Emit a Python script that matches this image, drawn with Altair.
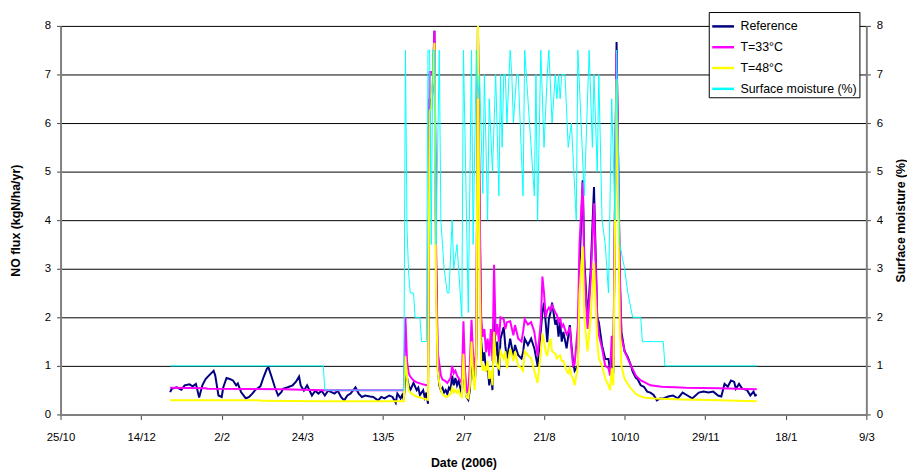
import altair as alt
import pandas as pd

FONT = "Liberation Sans"

series_names = ["Reference", "T=33°C", "T=48°C", "Surface moisture (%)"]
series_colors = ["#000080", "#FF00FF", "#FFFF00", "#00FFFF"]
series_widths = [2, 2, 2, 1]

x_tick_dates = ["2005-10-25", "2005-12-14", "2006-02-02", "2006-03-24", "2006-05-13",
                "2006-07-02", "2006-08-21", "2006-10-10", "2006-11-29", "2007-01-18", "2007-03-09"]
y_ticks = [0, 1, 2, 3, 4, 5, 6, 7, 8]

# (day of 2006 counted from 1 January = 0, value)
ref_points = [
    (0, 0.46), (1, 0.53), (4, 0.56), (7, 0.51), (9, 0.6), (12, 0.62), (14, 0.58), (16, 0.63),
    (18, 0.35), (20, 0.6), (22, 0.73), (24, 0.8), (27, 0.9), (28, 0.8), (30, 0.39), (32, 0.36),
    (33, 0.56), (35, 0.75), (37, 0.73), (39, 0.7), (41, 0.6), (42, 0.64), (44, 0.46), (47, 0.33),
    (49, 0.36), (51, 0.43), (53, 0.51), (56, 0.58), (58, 0.77), (60, 0.94), (61, 0.97), (63, 0.77),
    (65, 0.56), (67, 0.39), (69, 0.46), (70, 0.53), (73, 0.56), (76, 0.6), (78, 0.67), (80, 0.78),
    (81, 0.6), (83, 0.49), (85, 0.6), (88, 0.39), (90, 0.49), (92, 0.43), (94, 0.49), (96, 0.39),
    (98, 0.49), (100, 0.46), (102, 0.43), (104, 0.49), (106, 0.36), (108, 0.29), (110, 0.39),
    (112, 0.43), (115, 0.56), (117, 0.43), (119, 0.36), (121, 0.39), (124, 0.37), (126, 0.36),
    (129, 0.29), (131, 0.36), (133, 0.33), (136, 0.39), (138, 0.36), (140, 0.24), (141, 0.43),
    (143, 0.33), (144, 0.4), (145, 0.3),
    (146, 0.8), (147, 0.75), (148, 0.6), (149, 0.5), (151, 0.65), (153, 0.5), (154, 0.55),
    (155, 0.4), (157, 0.5), (158, 0.35), (159, 0.45), (160, 0.22), (161, 6.5), (162, 6.3),
    (163, 6.8), (164, 7.9), (165, 3.2), (166, 1.0), (167, 0.6), (168, 0.5), (169, 0.55),
    (170, 0.45), (171, 0.5), (172, 0.42), (173, 0.55), (174, 0.5), (175, 0.8), (176, 0.6),
    (177, 0.75), (178, 0.6), (179, 0.7), (180, 0.55), (181, 0.4), (182, 1.0), (183, 0.6),
    (184, 0.35), (185, 0.3), (186, 0.5), (187, 1.3), (188, 0.8), (189, 0.6), (190, 1.2),
    (191, 7.95), (192, 4.2), (193, 1.5), (194, 1.1), (195, 1.28), (196, 0.88), (197, 1.0),
    (198, 0.6), (199, 0.88), (200, 0.5), (201, 1.96), (202, 1.2), (203, 1.5), (204, 0.8),
    (205, 1.56), (207, 1.8), (208, 1.4), (209, 1.15), (211, 1.56), (213, 1.2), (214, 1.43),
    (216, 1.22), (218, 1.15), (219, 1.28), (220, 1.56), (222, 1.43), (224, 1.56), (226, 1.36),
    (228, 1.0), (230, 1.72), (231, 2.1), (232, 2.3), (233, 1.9), (234, 1.49), (235, 1.96),
    (236, 2.1), (237, 2.3), (239, 1.85), (240, 1.95), (241, 1.6), (242, 1.9), (243, 1.5),
    (244, 1.7), (246, 1.36), (247, 1.6), (248, 1.84), (249, 1.43), (250, 1.1), (251, 0.9),
    (253, 1.0), (254, 3.0), (256, 4.82), (257, 3.2), (259, 1.96), (261, 3.0), (263, 4.68),
    (265, 2.0), (266, 1.9), (268, 1.42), (270, 1.14), (272, 1.14), (273, 0.9), (274, 1.28),
    (275, 0.85), (277, 7.67), (279, 2.8), (280, 1.7), (282, 1.3), (284, 1.18), (286, 1.0),
    (287, 0.88), (289, 0.75), (290, 0.73), (292, 0.6), (294, 0.57), (296, 0.47), (298, 0.45),
    (300, 0.4), (302, 0.29), (304, 0.33), (306, 0.33), (309, 0.37), (312, 0.39), (315, 0.33),
    (318, 0.45), (321, 0.39), (324, 0.33), (328, 0.45), (331, 0.47), (334, 0.45), (337, 0.47),
    (340, 0.39), (342, 0.37), (344, 0.63), (346, 0.57), (348, 0.7), (350, 0.67), (351, 0.53),
    (353, 0.63), (355, 0.53), (358, 0.5), (360, 0.39), (362, 0.47), (363, 0.39), (364, 0.41),
]

t33_points = [
    (0, 0.55), (22, 0.54), (23, 0.53), (70, 0.52), (95, 0.5), (145, 0.5),
    (146, 2.0), (147, 1.1), (148, 0.85), (149, 0.78), (151, 0.7), (153, 0.66), (155, 0.64),
    (157, 0.62), (159, 0.6), (160, 0.6), (161, 7.05), (162, 7.05), (163, 7.0), (164, 7.9),
    (165, 3.5), (166, 1.3), (167, 1.05), (168, 0.8), (169, 0.72), (170, 0.7), (171, 0.68),
    (172, 0.65), (173, 0.7), (174, 0.75), (175, 1.0), (176, 0.85), (177, 0.9), (178, 0.8),
    (179, 0.75), (180, 0.7), (181, 0.65), (182, 1.92), (183, 0.9), (184, 0.5), (185, 0.45),
    (186, 1.05), (187, 1.95), (188, 1.2), (189, 0.9), (190, 1.5), (191, 8.0), (192, 4.5),
    (193, 2.0), (194, 1.6), (195, 1.76), (196, 1.28), (197, 1.56), (198, 1.2), (199, 1.76),
    (200, 1.1), (201, 3.08), (202, 1.63), (203, 1.86), (204, 1.5), (205, 2.0), (207, 1.96),
    (208, 1.76), (209, 1.9), (211, 1.92), (213, 1.63), (214, 1.84), (216, 1.56), (218, 1.5),
    (219, 1.7), (220, 1.96), (222, 1.85), (224, 1.9), (226, 1.7), (228, 1.2), (230, 1.9),
    (231, 2.84), (232, 2.5), (233, 2.0), (234, 2.14), (235, 2.2), (236, 2.15), (237, 2.25),
    (239, 2.1), (240, 2.05), (241, 1.9), (242, 2.0), (243, 1.8), (244, 1.85), (246, 1.65),
    (247, 1.7), (248, 1.8), (249, 1.36), (250, 1.0), (251, 1.04), (253, 1.84), (254, 3.5),
    (256, 4.78), (257, 3.0), (259, 1.76), (261, 2.8), (263, 4.35), (265, 2.0), (266, 1.64),
    (268, 1.36), (270, 1.0), (272, 0.95), (273, 0.8), (274, 1.62), (275, 1.0), (277, 7.45),
    (279, 3.0), (280, 1.6), (282, 1.3), (286, 1.0), (289, 0.8), (292, 0.7), (294, 0.67),
    (298, 0.6), (305, 0.57), (320, 0.55), (340, 0.54), (364, 0.52),
]

t48_points = [
    (0, 0.29), (55, 0.29), (56, 0.28), (95, 0.27), (145, 0.27),
    (146, 1.2), (147, 0.75), (148, 0.5), (149, 0.45), (151, 0.4), (153, 0.37), (155, 0.35),
    (157, 0.33), (159, 0.31), (160, 0.3), (161, 6.25), (162, 6.3), (163, 6.9), (164, 7.65),
    (165, 2.5), (166, 0.9), (167, 0.65), (168, 0.5), (169, 0.42), (170, 0.38), (171, 0.37),
    (172, 0.36), (173, 0.4), (174, 0.42), (175, 0.55), (176, 0.45), (177, 0.5), (178, 0.45),
    (179, 0.5), (180, 0.4), (181, 0.36), (182, 1.25), (183, 0.5), (184, 0.35), (185, 0.33),
    (186, 0.6), (187, 1.5), (188, 0.8), (189, 0.5), (190, 1.2), (191, 8.0), (192, 3.0),
    (193, 1.1), (194, 0.9), (195, 1.0), (196, 0.88), (197, 1.1), (198, 0.73), (199, 0.9),
    (200, 0.6), (201, 1.7), (202, 1.1), (203, 1.0), (204, 0.95), (205, 1.3), (207, 1.15),
    (208, 1.3), (209, 0.95), (211, 1.35), (213, 1.1), (214, 1.3), (216, 1.0), (218, 0.95),
    (219, 0.9), (220, 1.3), (222, 1.22), (224, 1.15), (226, 0.9), (228, 0.65), (230, 1.28),
    (231, 1.67), (232, 1.5), (233, 1.3), (234, 1.2), (235, 1.43), (236, 1.56), (237, 1.3),
    (239, 1.25), (240, 1.15), (241, 1.2), (242, 1.22), (243, 1.1), (244, 1.1), (246, 0.9),
    (247, 0.85), (248, 0.95), (249, 0.8), (250, 0.73), (251, 0.6), (253, 1.0), (254, 2.5),
    (256, 3.46), (257, 2.0), (259, 1.3), (261, 2.0), (263, 3.12), (265, 1.5), (266, 1.15),
    (268, 1.0), (270, 0.73), (272, 0.6), (273, 0.5), (274, 0.95), (275, 0.6), (277, 6.9),
    (279, 1.8), (280, 1.0), (282, 0.73), (286, 0.53), (289, 0.42), (292, 0.37), (294, 0.35),
    (300, 0.33), (318, 0.31), (340, 0.29), (364, 0.27),
]

moisture_points = [
    (0, 1.0), (95, 1.0), (96, 0.5), (145, 0.5), (146, 7.5), (147, 3.8), (148, 2.9), (149, 2.5),
    (151, 2.5), (152, 2.0), (155, 2.0), (156, 1.5), (159, 1.5), (160, 7.5), (161, 7.5),
    (162, 3.5), (163, 7.5), (164, 7.5), (165, 3.5), (167, 7.5), (168, 4.0), (170, 3.0),
    (172, 2.5), (173, 2.5), (175, 4.0), (176, 3.0), (178, 3.5), (180, 2.5), (181, 2.0),
    (182, 7.5), (185, 2.1), (187, 7.5), (188, 3.5), (190, 7.5), (191, 6.5), (192, 7.0),
    (194, 4.55), (195, 7.0), (197, 4.0), (198, 6.5), (200, 5.0), (202, 7.0), (204, 4.5),
    (205, 7.0), (206, 5.5), (207, 7.0), (208, 7.0), (209, 6.0), (211, 7.5), (212, 7.0),
    (213, 6.0), (215, 7.0), (216, 7.0), (219, 4.5), (220, 7.5), (223, 6.0), (226, 4.5),
    (227, 7.0), (228, 4.0), (230, 7.5), (232, 5.5), (234, 7.0), (235, 7.5), (237, 6.0),
    (239, 7.0), (240, 6.5), (241, 7.0), (242, 6.5), (243, 7.0), (245, 7.0), (247, 5.5),
    (249, 6.0), (252, 4.0), (253, 7.5), (257, 4.5), (260, 7.5), (262, 5.5), (263, 7.0),
    (265, 5.0), (266, 7.0), (268, 4.0), (270, 3.5), (272, 2.5), (274, 6.5), (276, 4.0),
    (277, 7.5), (279, 3.5), (282, 3.0), (284, 2.5), (287, 2.0), (292, 2.0), (293, 1.5),
    (306, 1.5), (307, 1.0), (364, 1.0),
]

start = pd.Timestamp("2006-01-01")


def ms(ts):
    return int(pd.Timestamp(ts).value // 10**6)


rows = []
for name, pts in zip(series_names, [ref_points, t33_points, t48_points, moisture_points]):
    for d, v in pts:
        rows.append({"series": name, "t": ms(start + pd.Timedelta(days=d)), "v": v})
df = pd.DataFrame(rows)

x_enc = alt.X(
    "t:T",
    title="Date (2006)",
    scale=alt.Scale(type="utc", domain=[ms(x_tick_dates[0]), ms(x_tick_dates[-1])]),
    axis=alt.Axis(
        values=[ms(d) for d in x_tick_dates],
        labelExpr="utcFormat(datum.value, '%-d/%-m')",
        grid=False, domainColor="#808080", domainWidth=2,
        tickColor="#404040", tickSize=5, tickWidth=1,
        labelFont=FONT, labelFontSize=11.5, labelColor="black", labelPadding=12,
        labelFlush=False, labelOverlap=False,
        titleFont=FONT, titleFontSize=12.5, titleFontWeight="bold", titleColor="black",
        titleY=49, titleBaseline="middle",
    ),
)

color_enc = alt.Color(
    "series:N",
    scale=alt.Scale(domain=series_names, range=series_colors),
    legend=alt.Legend(
        title=None, orient="none", legendX=654, legendY=-14,
        symbolType="stroke", symbolSize=484, symbolStrokeWidth=2.5,
        labelFont=FONT, labelFontSize=12.5, labelColor="black", labelOffset=5,
        fillColor="white", strokeColor="black", padding=2, rowPadding=2,
    ),
)


def y_enc(axis):
    return alt.Y("v:Q", scale=alt.Scale(domain=[0, 8], nice=False, zero=True), axis=axis)


left_axis = alt.Axis(
    values=y_ticks, grid=True, gridColor="black", gridWidth=1,
    domainColor="#808080", domainWidth=2, tickColor="#404040", tickSize=4,
    labelFont=FONT, labelFontSize=11.5, labelColor="black", labelPadding=6,
    title="NO flux (kgN/ha/yr)", titleFont=FONT, titleFontSize=12.5, titleFontWeight="bold",
    titleColor="black", titleX=-45, titleY=196, titleAngle=270, titleAlign="center",
    titleBaseline="middle",
)
right_axis = alt.Axis(
    orient="right", values=y_ticks, grid=False,
    domainColor="#808080", domainWidth=2, tickColor="#404040", tickSize=4,
    labelFont=FONT, labelFontSize=11.5, labelColor="black", labelPadding=6,
    title="Surface moisture (%)", titleFont=FONT, titleFontSize=12.5, titleFontWeight="bold",
    titleColor="black", titleX=34, titleY=196, titleAngle=270, titleAlign="center",
    titleBaseline="middle",
)

base = alt.Chart(df)
layers = []
for i, name in enumerate(series_names):
    axis = left_axis if i == 0 else (right_axis if i == 3 else None)
    layers.append(
        base.transform_filter(alt.datum.series == name)
        .mark_line(strokeWidth=series_widths[i])
        .encode(x=x_enc, y=y_enc(axis), color=color_enc)
    )

chart = (
    alt.layer(*layers)
    .resolve_scale(y="independent")
    .properties(
        width=813, height=392,
        padding={"left": 53, "top": 16, "right": 41, "bottom": 55},
        autosize=alt.AutoSizeParams(type="none"),
    )
    .configure_view(stroke=None)
)

chart.save("out.html", embed_options={"renderer": "svg", "actions": False})
